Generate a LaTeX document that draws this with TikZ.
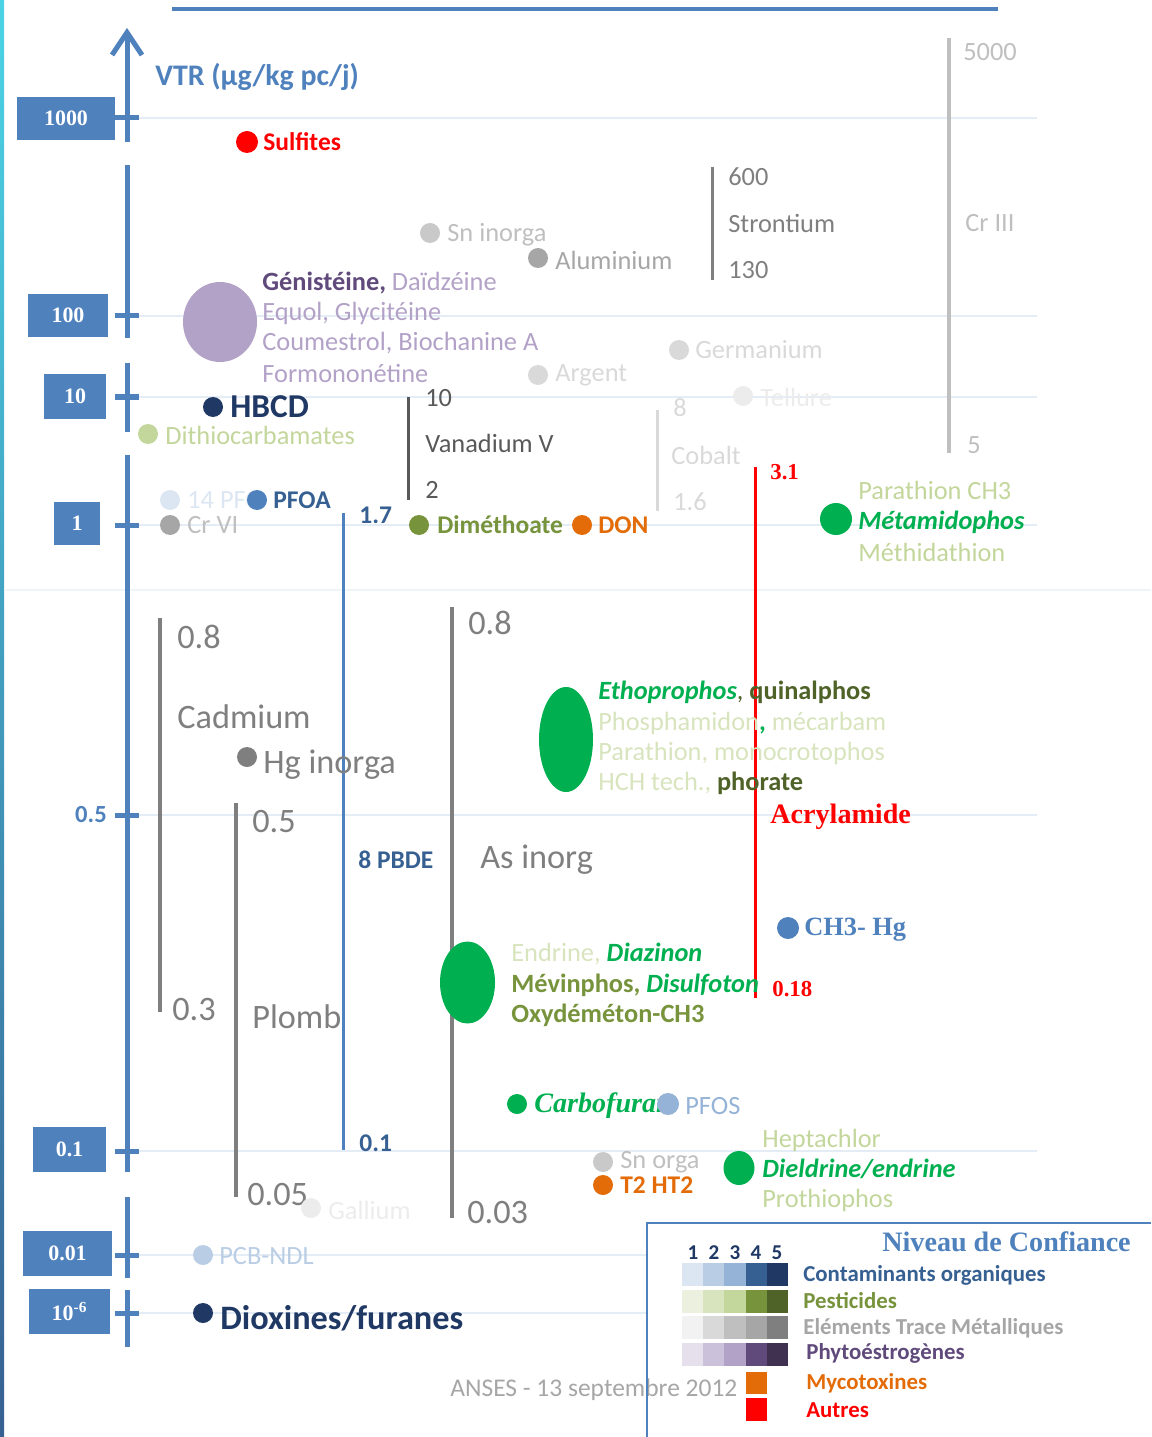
\documentclass[tikz,border=0pt]{standalone}
\usepackage{fontspec}
\setmainfont{Carlito}
\newfontfamily\serf{Liberation Serif}
\usetikzlibrary{arrows.meta,shapes.geometric}

\newcommand\fsz[1]{\fontsize{#1}{#1}\selectfont}

\definecolor{cAx}{HTML}{4F81BD}
\definecolor{cBlueD}{HTML}{376092}
\definecolor{cNavy}{HTML}{1F3864}
\definecolor{cLblue}{HTML}{95B3D7}
\definecolor{cLLblue}{HTML}{B9CDE5}
\definecolor{cPale}{HTML}{DCE6F2}
\definecolor{cGrid}{HTML}{E4ECF5}
\definecolor{cGreen}{HTML}{00B050}
\definecolor{cOlive}{HTML}{77933C}
\definecolor{cDolive}{HTML}{4F6228}
\definecolor{cLgreen}{HTML}{C3D69B}
\definecolor{cLLgreen}{HTML}{D7E4BD}
\definecolor{cPLgreen}{HTML}{EBF1DE}
\definecolor{cOrange}{HTML}{E36C09}
\definecolor{cRed}{HTML}{FF0000}
\definecolor{cPurp}{HTML}{B3A2C7}
\definecolor{cDpurp}{HTML}{604A7B}
\definecolor{cDDpurp}{HTML}{403151}
\definecolor{cLpurp}{HTML}{CCC1DA}
\definecolor{cLLpurp}{HTML}{E6E0EC}
\definecolor{cG1}{HTML}{F2F2F2}
\definecolor{cG2}{HTML}{D9D9D9}
\definecolor{cG3}{HTML}{BFBFBF}
\definecolor{cG4}{HTML}{A6A6A6}
\definecolor{cG5}{HTML}{7F7F7F}
\definecolor{cG6}{HTML}{595959}
\definecolor{cCyan}{HTML}{4CD3E6}
\definecolor{cGhost}{HTML}{ECECEC}

\begin{document}
\begin{tikzpicture}[x=0.2mm, y=-0.2mm,
	axis/.style={cAx, line width=1mm},
	bar/.style={line width=0.8mm},
	gridln/.style={cGrid, line width=0.3mm},
	dot/.style={circle, inner sep=0pt, minimum size=4mm},
	tickbox/.style={fill=cAx, text=white, inner sep=0pt, font=\serf\bfseries\fsz{12.5}},
	lab/.style={anchor=west, inner sep=0pt, font=\fsz{15}},
	labb/.style={anchor=west, inner sep=0pt, font=\bfseries\fsz{14.5}},
	big/.style={anchor=west, inner sep=0pt, font=\fsz{19.5}},
	bigb/.style={anchor=west, inner sep=0pt, font=\bfseries\fsz{19.5}},
	leg/.style={anchor=west, inner sep=0pt, font=\bfseries\fsz{13}}]
		\useasboundingbox (0,0) rectangle (1151,1437);

		% frame
		\shade[top color=cCyan, middle color=cCyan, bottom color=cBlueD] (0,0) rectangle (4,1437);
		\draw[cAx, line width=0.8mm] (172,9) -- (998,9);

		% grid lines
		\foreach \y in {118,316,397,525,815,1151,1255,1313}
			\draw[gridln] (139,\y) -- (1037,\y);
		\draw[cGrid!60, line width=0.3mm] (4,590) -- (1151,590);

		% axis
		\draw[axis, -{Straight Barb[length=4.5mm,width=6mm]}] (127,142) -- (127,28);
		\draw[axis] (127,165) -- (127,338);
		\draw[axis] (127,363) -- (127,432);
		\draw[axis] (127,455) -- (127,1172);
		\draw[axis] (127,1197) -- (127,1278);
		\draw[axis] (127,1290) -- (127,1347);
		\foreach \y in {118,316,397,525,815,1151,1255,1313}
			\draw[axis] (115,\y) -- (139,\y);
		\node[lab, text=cAx, font=\bfseries\fsz{17}] (vtr) at (155,77) {VTR (µg/kg pc/j)};
		\node[tickbox, minimum width=19.6mm, minimum height=8.6mm] (v1000) at (66,118.5) {1000};
		\node[tickbox, minimum width=16mm, minimum height=8.6mm] (v100) at (68,315.5) {100};
		\node[tickbox, minimum width=12.4mm, minimum height=8.8mm] (v10) at (75,396.5) {10};
		\node[tickbox, minimum width=9.2mm, minimum height=8.6mm] (v1) at (77,523.5) {1};
		\node[inner sep=0pt, text=cAx, font=\bfseries\fsz{14}] (v05) at (91,815) {0.5};
		\node[tickbox, minimum width=14.6mm, minimum height=9mm] (v01) at (69.5,1149.5) {0.1};
		\node[tickbox, minimum width=17.8mm, minimum height=9mm] (v001) at (67.5,1253.5) {0.01};
		\node[tickbox, minimum width=16.2mm, minimum height=9mm] (v1e6) at (69.5,1311.5) {10\textsuperscript{-6}};

		% ranges
		\draw[bar, cG3] (949,38) -- (949,453);
		\node[lab, text=cG3] (cr3a) at (963,52) {5000};
		\node[lab, text=cG3] (cr3) at (965,223) {Cr III};
		\node[lab, text=cG3] (cr3b) at (967,445) {5};
		\draw[bar, cG5, line width=0.6mm] (712,167) -- (712,280);
		\node[lab, text=cG5] (sra) at (728,177) {600};
		\node[lab, text=cG5] (sr) at (728,223) {Strontium};
		\node[lab, text=cG5] (srb) at (728,270) {130};
		\draw[bar, cG6, line width=0.6mm] (408,397) -- (408,500);
		\node[lab, text=cG6] (vana) at (425,398) {10};
		\node[lab, text=cG6] (van) at (425,443) {Vanadium V};
		\node[lab, text=cG6] (vanb) at (425,490) {2};
		\draw[bar, cG2, line width=0.6mm] (657,410) -- (657,511);
		\node[lab, text=cG2] (coa) at (673,408) {8};
		\node[lab, text=cG2] (co) at (671,455) {Cobalt};
		\node[lab, text=cG2] (cob) at (673,502) {1.6};
		\draw[bar, cAx, line width=0.6mm] (343,513) -- (343,1150);
		\node[labb, text=cBlueD] (pbdea) at (359,515) {1.7};
		\node[labb, text=cBlueD] (pbde) at (358,860) {8 PBDE};
		\node[labb, text=cBlueD] (pbdeb) at (359,1143) {0.1};
		\draw[bar, cRed, line width=0.6mm] (755,467) -- (755,998);
		\node[lab, text=cRed, font=\serf\bfseries\fsz{13}] (acra) at (770,472) {3.1};
		\node[lab, text=cRed, font=\serf\bfseries\fsz{16}] (acr) at (770,817) {Acrylamide};
		\node[lab, text=cRed, font=\serf\bfseries\fsz{13}] (acrb) at (772,989) {0.18};
		\draw[bar, cG5] (160,618) -- (160,1012);
		\node[big, text=cG5] (cda) at (177,637) {0.8};
		\node[big, text=cG5] (cd) at (177,717) {Cadmium};
		\node[big, text=cG5] (cdb) at (172,1010) {0.3};
		\draw[bar, cG5] (236,803) -- (236,1197);
		\node[big, text=cG5] (pba) at (252,822) {0.5};
		\node[big, text=cG5] (pb) at (252,1017) {Plomb};
		\node[big, text=cG5] (pbb) at (247,1195) {0.05};
		\draw[bar, cG5] (452,607) -- (452,1218);
		\node[big, text=cG5] (asa) at (468,623) {0.8};
		\node[big, text=cG5] (as) at (480,860) {As inorg};
		\node[big, text=cG5] (asb) at (467,1213) {0.03};

		% single values
		\node[dot, fill=cRed, minimum size=4.4mm] (sulf) at (247,142) {};
		\node[labb, text=cRed] (sulft) at (263,142) {Sulfites};
		\node[dot, fill=cG3!85] (snin) at (430,233) {};
		\node[lab, text=cG3] (snint) at (447,235) {Sn inorga};
		\node[dot, fill=cG4] (alu) at (538,258) {};
		\node[lab, text=cG4] (alut) at (555,260) {Aluminium};
		\node[dot, fill=cG2] (germ) at (679,350) {};
		\node[lab, text=cG2] (germt) at (695,350) {Germanium};
		\node[dot, fill=cG2] (ag) at (538,375) {};
		\node[lab, text=cG2] (agt) at (555,375) {Argent};
		\node[dot, fill=cGhost] (tell) at (743,396) {};
		\node[lab, text=cGhost] (tellt) at (760,397) {Tellure};
		\node[ellipse, fill=cPurp, inner sep=0pt, minimum width=14.8mm, minimum height=16mm] (phyto) at (220,322) {};
		\node[lab, text=cPurp] (phyt1) at (262,283) {\textcolor{cDpurp}{\bfseries Génistéine,} Daïdzéine};
		\node[lab, text=cPurp] (phyt2) at (262,313) {Equol, Glycitéine};
		\node[lab, text=cPurp] (phyt3) at (262,343) {Coumestrol, Biochanine A};
		\node[lab, text=cPurp] (phyt4) at (262,373) {Formononétine};
		\node[dot, fill=cNavy] (hbcd) at (213,407) {};
		\node[bigb, text=cNavy, font=\bfseries\fsz{19}] (hbcdt) at (230,407) {HBCD};
		\node[dot, fill=cLgreen] (dtc) at (148,434) {};
		\node[lab, text=cLgreen] (dtct) at (165,435) {Dithiocarbamates};
		\node[lab, text=cPale] (pfct) at (187,500) {14 PFC};
		\node[dot, fill=cPale] (pfc) at (170,500) {};
		\node[dot, fill=cAx] (pfoa) at (257,500) {};
		\node[labb, text=cBlueD] (pfoat) at (273,500) {PFOA};
		\node[dot, fill=cG4] (cr6) at (170,525) {};
		\node[lab, text=cG3] (cr6t) at (187,525) {Cr VI};
		\node[dot, fill=cOlive] (dim) at (419,525) {};
		\node[labb, text=cOlive] (dimt) at (437,525) {Diméthoate};
		\node[dot, fill=cOrange] (don) at (582,525) {};
		\node[labb, text=cOrange] (dont) at (598,525) {DON};
		\node[dot, fill=cGreen, minimum size=6.4mm] (meta) at (836,519) {};
		\node[lab, text=cLgreen] (meta1) at (858,490) {Parathion CH3};
		\node[lab, text=cGreen, font=\bfseries\itshape\fsz{15}] (meta2) at (858,522) {Métamidophos};
		\node[lab, text=cLgreen] (meta3) at (858,552) {Méthidathion};
		\node[dot, fill=cG5] (hg) at (247,757) {};
		\node[big, text=cG5] (hgt) at (263,765) {Hg inorga};
		\node[ellipse, fill=cGreen, inner sep=0pt, minimum width=10.8mm, minimum height=21mm] (pest1) at (566,739.5) {};
		\node[lab, text=cDolive] (pest1a) at (598,692) {\textcolor{cGreen}{\bfseries\itshape Ethoprophos}, \bfseries quinalphos};
		\node[lab, text=cLLgreen] (pest1b) at (598,723) {Phosphamidon\textcolor{cGreen}{\bfseries ,} mécarbam};
		\node[lab, text=cLLgreen] (pest1c) at (598,753) {Parathion, monocrotophos};
		\node[lab, text=cLLgreen] (pest1d) at (598,783) {HCH tech., \textcolor{cDolive}{\bfseries phorate}};
		\node[dot, fill=cAx, minimum size=4.4mm] (mehg) at (788,928) {};
		\node[lab, text=cAx, font=\serf\bfseries\fsz{15}] (mehgt) at (804,930) {CH3- Hg};
		\node[ellipse, fill=cGreen, inner sep=0pt, minimum width=11mm, minimum height=16.4mm] (pest2) at (467.5,982.5) {};
		\node[lab, text=cLLgreen] (pest2a) at (511,954) {Endrine, \textcolor{cGreen}{\bfseries\itshape Diazinon}};
		\node[lab, text=cOlive] (pest2b) at (511,985) {\bfseries Mévinphos, \textcolor{cGreen}{\itshape Disulfoton}};
		\node[lab, text=cOlive, font=\bfseries\fsz{15}] (pest2c) at (511,1015) {Oxydéméton-CH3};
		\node[dot, fill=cGreen] (carb) at (517,1104) {};
		\node[lab, text=cGreen, font=\serf\bfseries\itshape\fsz{16}] (carbt) at (534,1106) {Carbofuran};
		\node[dot, fill=cLblue, minimum size=4.4mm] (pfos) at (668,1104) {};
		\node[lab, text=cLblue] (pfost) at (685,1106) {PFOS};
		\node[dot, fill=cG3!85] (snor) at (603,1162) {};
		\node[lab, text=cG3] (snort) at (620,1162) {Sn orga};
		\node[dot, fill=cOrange] (t2) at (603,1185) {};
		\node[labb, text=cOrange] (t2t) at (620,1185) {T2 HT2};
		\node[ellipse, fill=cGreen, inner sep=0pt, minimum width=6.2mm, minimum height=6.8mm] (diel) at (739,1168) {};
		\node[lab, text=cLgreen] (diel1) at (762,1140) {Heptachlor};
		\node[lab, text=cGreen, font=\bfseries\itshape\fsz{15}] (diel2) at (762,1169) {Dieldrine/endrine};
		\node[lab, text=cLgreen] (diel3) at (762,1200) {Prothiophos};
		\node[dot, fill=cGhost] (ga) at (311,1208) {};
		\node[lab, text=cGhost] (gat) at (328,1210) {Gallium};
		\node[dot, fill=cLLblue] (pcb) at (203,1255) {};
		\node[lab, text=cLLblue] (pcbt) at (219,1256) {PCB-NDL};
		\node[dot, fill=cNavy] (diox) at (203,1313) {};
		\node[bigb, text=cNavy] (dioxt) at (220,1318) {Dioxines/furanes};

		% legend
		\fill[white] (647,1223) rectangle (1151,1437);
		\node[lab, text=cG4, font=\fsz{14.5}] (anses) at (450,1390) {ANSES - 13 septembre 2012};
		\draw[cAx, line width=0.5mm] (647,1437) -- (647,1223) -- (1151,1223);
		\node[lab, text=cAx, font=\serf\bfseries\fsz{16}] (niv) at (882,1242) {Niveau de Confiance};
		\foreach \i/\x in {1/693,2/714,3/735,4/756,5/777}
			\node[inner sep=0pt, text=cNavy, font=\bfseries\fsz{12}] (n\i) at (\x,1253) {\i};
		\foreach \r/\ca/\cb/\cc/\cd/\ce in {0/cPale/cLLblue/cLblue/cBlueD/cNavy, 1/cPLgreen/cLLgreen/cLgreen/cOlive/cDolive, 2/cG1/cG2/cG3/cG4/cG5, 3/cLLpurp/cLpurp/cPurp/cDpurp/cDDpurp}
			\foreach [count=\k from 0] \c in {\ca,\cb,\cc,\cd,\ce}
				\fill[\c] ({682+21.2*\k},{1263+26.5*\r}) rectangle ({703.2+21.2*\k},{1286+26.5*\r});
		\fill[cOrange] (746,1372) rectangle (767,1394);
		\fill[cRed] (746,1398) rectangle (767,1421);
		\node[leg, text=cBlueD] (lg1) at (803,1275) {Contaminants organiques};
		\node[leg, text=cOlive] (lg2) at (803,1301) {Pesticides};
		\node[leg, text=cG4] (lg3) at (803,1328) {Eléments Trace Métalliques};
		\node[leg, text=cDpurp] (lg4) at (806,1353) {Phytoéstrogènes};
		\node[leg, text=cOrange] (lg5) at (806,1383) {Mycotoxines};
		\node[leg, text=cRed] (lg6) at (806,1410) {Autres};
	\end{tikzpicture}
\end{document}
